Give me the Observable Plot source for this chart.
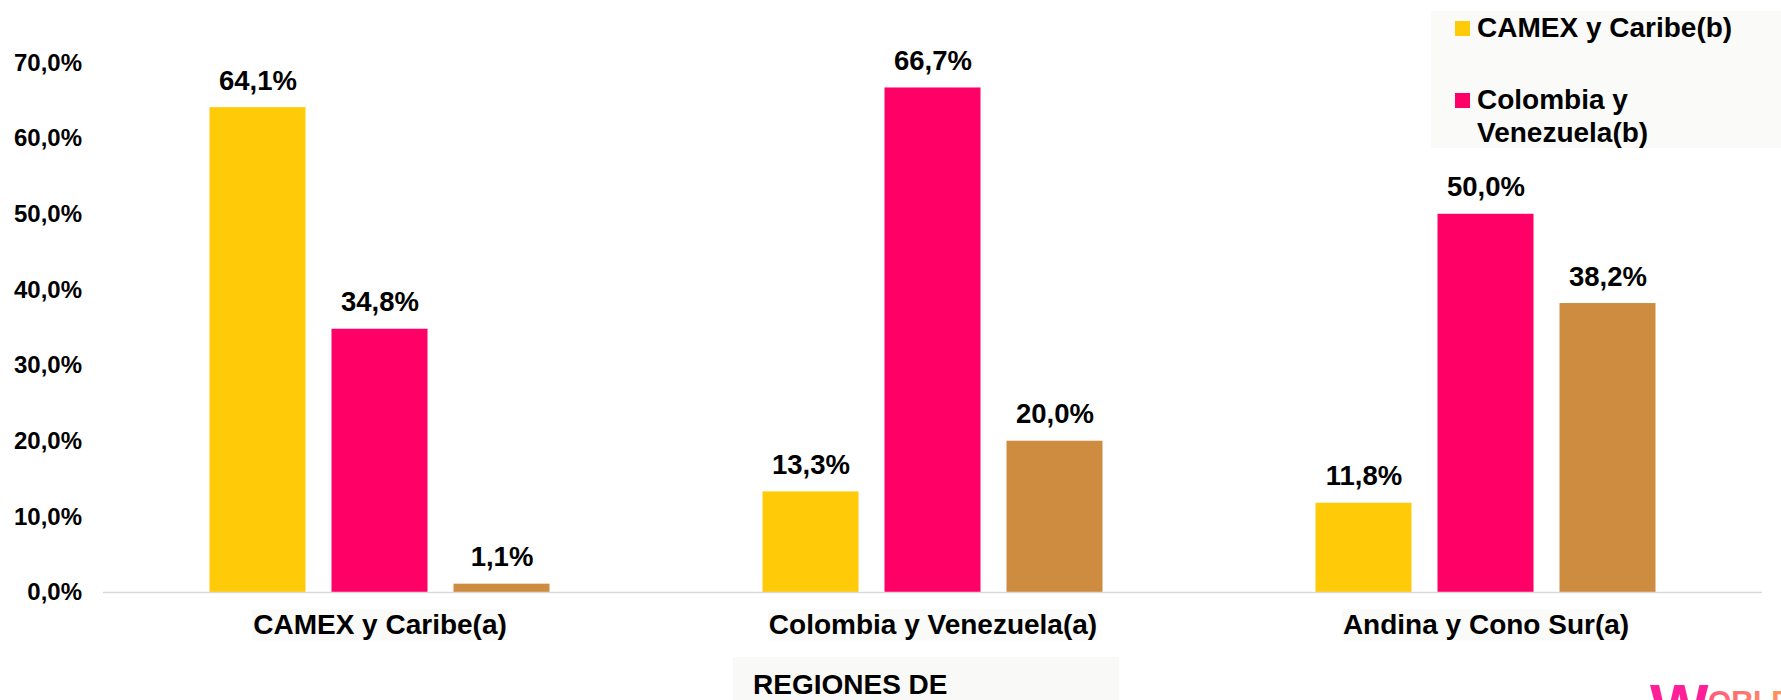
<!DOCTYPE html>
<html>
<head>
<meta charset="utf-8">
<script src="https://cdn.jsdelivr.net/npm/d3@7"></script>
<script src="https://cdn.jsdelivr.net/npm/@observablehq/plot@0.6"></script>
<style>
  html, body { margin: 0; padding: 0; background: #fff; }
  body { width: 1781px; height: 700px; position: relative; overflow: hidden;
         font-family: "Liberation Sans", Arial, sans-serif; }
  #chart { position: absolute; left: 0; top: 0; }
  #overlay { position: absolute; left: 0; top: 0; pointer-events: none; }
</style>
</head>
<body>
<div id="chart"></div>
<svg id="overlay" width="1781" height="700" font-family="'Liberation Sans', Arial, sans-serif" font-weight="bold"></svg>
<script>
// ---- data ----
const regions = ["CAMEX y Caribe(a)", "Colombia y Venezuela(a)", "Andina y Cono Sur(a)"];
const series = ["CAMEX y Caribe(b)", "Colombia y Venezuela(b)", "Andina y Cono Sur(b)"];
const colors = ["#FFCA08", "#FF0066", "#CD8C40"];
// percentages of each series (b) within each region (a)
const valuesCamex    = [64.1, 34.8, 1.1];
const valuesColombia = [13.3, 66.7, 20.0];
const valuesAndina   = [11.8, 50.0, 38.2];
const yTicks = [0, 10, 20, 30, 40, 50, 60, 70];
const xAxisTitle = "REGIONES DE";
// legend lines as they wrap in the (clipped) legend box; third entry is hidden in the original
const legendLines = [["CAMEX y Caribe(b)"], ["Colombia y", "Venezuela(b)"]];

const rows = [valuesCamex, valuesColombia, valuesAndina];
const data = [];
regions.forEach((r, i) => series.forEach((s, j) => data.push({region: r, serie: s, value: rows[i][j]})));

const fmt = v => v.toFixed(1).replace(".", ",") + "%";
const FONT = "'Liberation Sans', Arial, sans-serif";

const chart = Plot.plot({
  width: 1781,
  height: 700,
  marginLeft: 102.5,
  marginRight: 18.5,
  marginTop: 62.5,
  marginBottom: 108,
  style: { fontFamily: FONT, background: "transparent" },
  fx: { domain: regions, paddingInner: 0, paddingOuter: 0, label: null },
  x: { domain: series, paddingInner: 0.21, paddingOuter: 0.864, axis: null },
  y: { domain: [0, 70], label: null },
  color: { domain: series, range: colors },
  marks: [
    Plot.axisY({ ticks: yTicks, tickFormat: fmt, tickSize: 0, tickPadding: 21.5,
                 fontSize: 24, fontWeight: "bold", fill: "#000" }),
    Plot.axisFx({ anchor: "bottom", tickSize: 0, tickPadding: 22, fontSize: 28,
                  fontWeight: "bold", fill: "#000", label: null }),
    Plot.barY(data, { fx: "region", x: "serie", y: "value", fill: "serie" }),
    Plot.ruleY([0], { stroke: "#d9d9d9", strokeWidth: 1.5 }),
    Plot.text(data, { fx: "region", x: "serie", y: "value", text: d => fmt(d.value),
                      lineAnchor: "bottom", dy: -18, fontSize: 27.5, fontWeight: "bold", fill: "#000" })
  ]
});
document.getElementById("chart").appendChild(chart);

// faint background boxes behind the category labels (as in the original)
chart.querySelectorAll('[aria-label="fx-axis tick label"] text').forEach(t => {
  const b = t.getBBox();
  const r = document.createElementNS("http://www.w3.org/2000/svg", "rect");
  r.setAttribute("x", b.x - 1); r.setAttribute("y", b.y);
  r.setAttribute("width", b.width + 2); r.setAttribute("height", b.height);
  r.setAttribute("fill", "#fafaf8");
  if (t.getAttribute("transform")) r.setAttribute("transform", t.getAttribute("transform"));
  t.parentNode.insertBefore(r, t);
});

// overlay: legend box, axis-title box, logo
const ov = d3.select("#overlay");
ov.append("rect").attr("x", 1431).attr("y", 11).attr("width", 350).attr("height", 137).attr("fill", "#fafaf9");
const legendTop = [37, 109];
legendLines.forEach((lines, i) => {
  ov.append("rect").attr("x", 1455).attr("y", legendTop[i] - 16).attr("width", 15).attr("height", 15).attr("fill", colors[i]);
  const t = ov.append("text").attr("font-size", 28).attr("fill", "#000");
  lines.forEach((ln, k) => t.append("tspan").attr("x", 1477).attr("y", legendTop[i] + k * 33).text(ln));
});
ov.append("rect").attr("x", 733).attr("y", 657).attr("width", 386).attr("height", 43).attr("fill", "#f9f9f7");
ov.append("text").attr("x", 753).attr("y", 694).attr("font-size", 28).attr("fill", "#000").text(xAxisTitle);
const grad = ov.append("defs").append("linearGradient").attr("id", "lg");
grad.append("stop").attr("offset", "0").attr("stop-color", "#ff5a7a");
grad.append("stop").attr("offset", "1").attr("stop-color", "#ff9a5a");
ov.append("text").attr("x", 1650).attr("y", 727).attr("font-size", 62).attr("fill", "#ff1f96").text("W");
ov.append("text").attr("x", 1708).attr("y", 711).attr("font-size", 30).attr("fill", "url(#lg)").text("ORLD");
</script>
</body>
</html>
